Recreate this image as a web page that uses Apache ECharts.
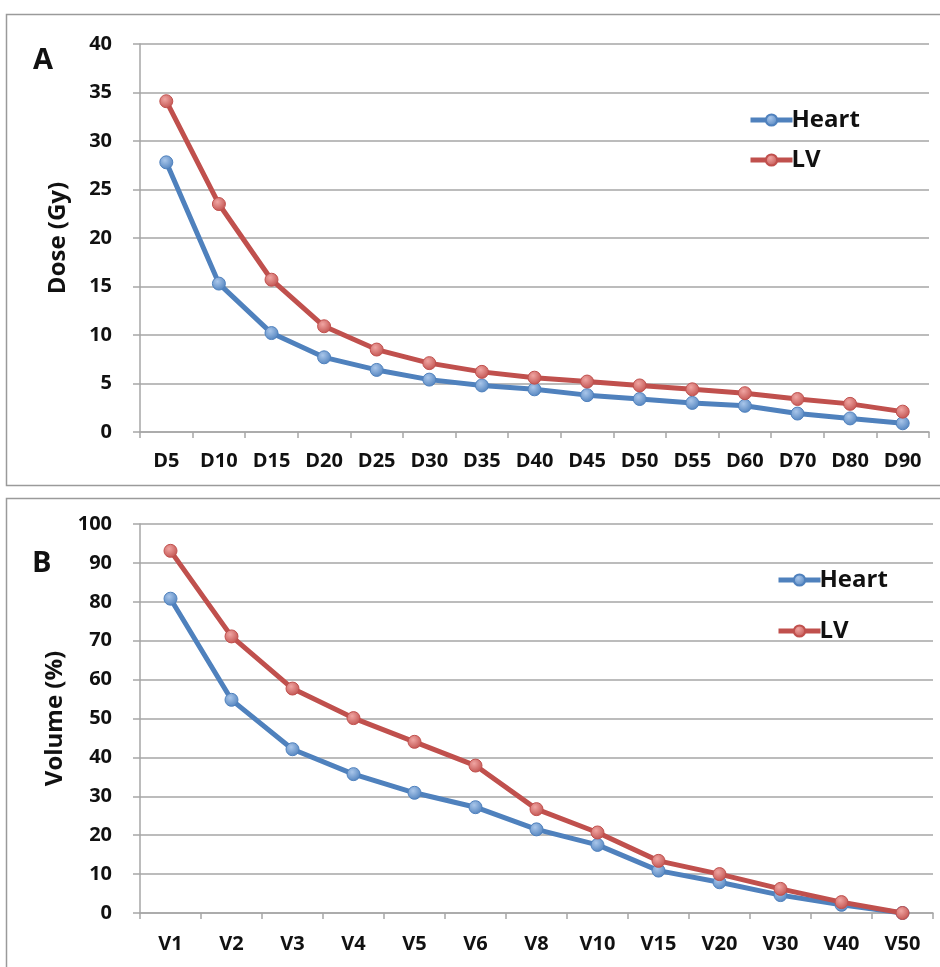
<!DOCTYPE html>
<html>
<head>
<meta charset="utf-8">
<script src="https://cdn.jsdelivr.net/npm/echarts@6/dist/echarts.min.js"></script>
<style>
  html, body { margin: 0; padding: 0; background: #fff; }
  #chart { width: 940px; height: 967px; }
</style>
</head>
<body>
<div id="chart"></div>
<script>
// panel A: dose
let doseCategories = ['D5', 'D10', 'D15', 'D20', 'D25', 'D30', 'D35', 'D40', 'D45', 'D50', 'D55', 'D60', 'D70', 'D80', 'D90']
let doseHeart = [27.8, 15.3, 10.2, 7.7, 6.4, 5.4, 4.8, 4.4, 3.8, 3.4, 3.0, 2.7, 1.9, 1.4, 0.9]
let doseLV = [34.1, 23.5, 15.7, 10.9, 8.5, 7.1, 6.2, 5.6, 5.2, 4.8, 4.4, 4.0, 3.4, 2.9, 2.1]

// panel B: volume
let volCategories = ['V1', 'V2', 'V3', 'V4', 'V5', 'V6', 'V8', 'V10', 'V15', 'V20', 'V30', 'V40', 'V50']
let volHeart = [80.8, 54.8, 42.1, 35.7, 30.9, 27.2, 21.5, 17.5, 10.9, 7.9, 4.6, 2.1, 0]
let volLV = [93.1, 71.1, 57.7, 50.1, 44.0, 37.9, 26.7, 20.7, 13.4, 10.0, 6.2, 2.8, 0]

let fontFam = '"Open Sans", "Noto Sans", sans-serif'
let gridGrey = '#a6a6a6'
let blue = '#4f81bd'
let red = '#c0504d'

function xAxisOf (gridIndex, data, margin) {
  return {
    type: 'category',
    gridIndex: gridIndex,
    boundaryGap: true,
    data: data,
    axisLine: { lineStyle: { color: gridGrey, width: 1.5 } },
    axisTick: { show: true, length: 6, alignWithLabel: false, lineStyle: { color: gridGrey, width: 1.5 } },
    axisLabel: { margin: margin, fontFamily: fontFam, fontWeight: 'bold', fontSize: 20, color: '#111' }
  }
}

function yAxisOf (gridIndex, name, max, interval, nameGap) {
  return {
    type: 'value',
    gridIndex: gridIndex,
    min: 0,
    max: max,
    interval: interval,
    name: name,
    nameLocation: 'middle',
    nameGap: nameGap,
    nameTextStyle: { fontFamily: fontFam, fontWeight: 'bold', fontSize: 24, color: '#111' },
    axisLine: { show: true, lineStyle: { color: gridGrey, width: 1.5 } },
    axisTick: { show: true, length: 7, lineStyle: { color: gridGrey, width: 1.5 } },
    axisLabel: { margin: 28, fontFamily: fontFam, fontWeight: 'bold', fontSize: 20, color: '#111' },
    splitLine: { show: true, lineStyle: { color: gridGrey, width: 1.5 } }
  }
}

function lineOf (name, gridIndex, data, color, dot) {
  return {
    name: name,
    type: 'line',
    xAxisIndex: gridIndex,
    yAxisIndex: gridIndex,
    data: data,
    symbol: 'circle',
    symbolSize: 13,
    z: name === 'LV' ? 3 : 2,
    lineStyle: { color: color, width: 5 },
    itemStyle: {
      color: new echarts.graphic.RadialGradient(0.4, 0.35, 0.7, [
        { offset: 0, color: dot },
        { offset: 1, color: color }
      ]),
      borderColor: color,
      borderWidth: 1
    }
  }
}

function legendOf (left, top, gap) {
  return {
    data: ['Heart', 'LV'],
    orient: 'vertical',
    left: left,
    top: top,
    padding: 0,
    itemWidth: 42,
    itemHeight: 14,
    itemGap: gap,
    lineStyle: { width: 5 },
    textStyle: { fontFamily: fontFam, fontWeight: 'bold', fontSize: 24, color: '#111', padding: [0, 0, 0, -6] }
  }
}

let myChart = echarts.init(document.getElementById('chart'))
let option = {
  animation: false,
  color: [blue, red],
  graphic: [
    { type: 'rect', shape: { x: 6.5, y: 14.5, width: 960, height: 471 }, style: { fill: 'none', stroke: '#9a9a9a', lineWidth: 1.5 }, z: -10 },
    { type: 'rect', shape: { x: 6.5, y: 498.5, width: 960, height: 500 }, style: { fill: 'none', stroke: '#9a9a9a', lineWidth: 1.5 }, z: -10 },
    { type: 'text', left: 33, top: 46, style: { text: 'A', fontFamily: fontFam, fontWeight: 'bold', fontSize: 29, fill: '#111' } },
    { type: 'text', left: 32, top: 549, style: { text: 'B', fontFamily: fontFam, fontWeight: 'bold', fontSize: 29, fill: '#111' } }
  ],
  grid: [
    { left: 140, top: 44, width: 789, height: 388 },
    { left: 140, top: 524, width: 793, height: 389 }
  ],
  legend: [
    legendOf(748, 108, 16),
    legendOf(776, 568, 27)
  ],
  xAxis: [
    xAxisOf(0, doseCategories, 19),
    xAxisOf(1, volCategories, 21)
  ],
  yAxis: [
    yAxisOf(0, 'Dose (Gy)', 40, 5, 70),
    yAxisOf(1, 'Volume (%)', 100, 10, 72)
  ],
  series: [
    lineOf('Heart', 0, doseHeart, blue, '#a9c6ea'),
    lineOf('LV', 0, doseLV, red, '#f0a5a2'),
    lineOf('Heart', 1, volHeart, blue, '#a9c6ea'),
    lineOf('LV', 1, volLV, red, '#f0a5a2')
  ]
}
myChart.setOption(option)
</script>
</body>
</html>
